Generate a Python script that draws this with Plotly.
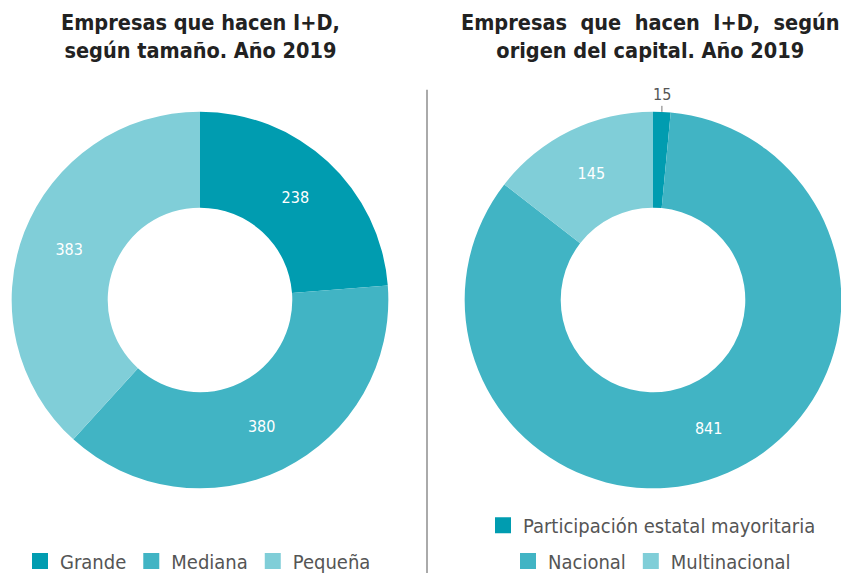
import math
import plotly.graph_objects as go

# Datos
tamano_labels = ["Grande", "Mediana", "Pequeña"]
tamano_values = [238, 380, 383]

origen_labels = ["Participación estatal mayoritaria", "Nacional", "Multinacional"]
origen_values = [15, 841, 145]

colores = ["#009cb0", "#41b4c4", "#80ced8"]

titulo_1 = "Empresas que hacen I+D,<br>según tamaño. Año 2019"
titulo_2 = "Empresas  que  hacen  I+D,  según<br>origen del capital. Año 2019"

FONT = "DejaVu Sans Condensed, DejaVu Sans, sans-serif"
W, H = 849, 573
OFF = 8  # margen del body de la pagina


def px(x):
    return (x - OFF) / W


def py(y):
    return 1 - (y - OFF) / H


# posicion de las dos tortas (pixeles de la ventana)
cx1, cx2, cy, R = 200, 653, 301, 189

fig = go.Figure()

fig.add_trace(go.Pie(
    labels=tamano_labels,
    values=tamano_values,
    hole=0.49,
    sort=False,
    direction="clockwise",
    rotation=0,
    marker=dict(colors=colores, line=dict(width=0)),
    textinfo="value",
    textposition="inside",
    insidetextorientation="horizontal",
    textfont=dict(color="white", size=16, family=FONT),
    domain=dict(x=[px(cx1 - R), px(cx1 + R)], y=[py(cy + R), py(cy - R)]),
    showlegend=False,
))

fig.add_trace(go.Pie(
    labels=origen_labels,
    values=origen_values,
    hole=0.49,
    sort=False,
    direction="clockwise",
    rotation=0,
    marker=dict(colors=colores, line=dict(width=0)),
    texttemplate=["", "%{value}", "%{value}"],
    textposition="inside",
    insidetextorientation="horizontal",
    textfont=dict(color="white", size=16, family=FONT),
    domain=dict(x=[px(cx2 - R), px(cx2 + R)], y=[py(cy + R), py(cy - R)]),
    showlegend=False,
))

# etiqueta externa de la porcion pequeña
ang = math.pi * origen_values[0] / sum(origen_values)
lx = px(cx2 + R * math.sin(ang))
ly = py(cy - R * math.cos(ang))

# entradas de leyenda
for i, lab in enumerate(tamano_labels):
    fig.add_trace(go.Scatter(x=[None], y=[None], mode="markers", name=lab,
                             marker=dict(symbol="square", size=16, color=colores[i]),
                             legend="legend"))
for i, lab in enumerate(origen_labels):
    fig.add_trace(go.Scatter(x=[None], y=[None], mode="markers", name=lab,
                             marker=dict(symbol="square", size=16, color=colores[i]),
                             legend="legend2" if i == 0 else "legend3"))

leg_common = dict(
    orientation="h",
    font=dict(size=20, color="#555555", family=FONT),
    yanchor="middle",
    xanchor="center",
    traceorder="normal",
    bgcolor="rgba(0,0,0,0)",
)

fig.update_layout(
    width=W,
    height=H,
    margin=dict(l=0, r=0, t=0, b=0),
    paper_bgcolor="white",
    plot_bgcolor="white",
    font=dict(family=FONT),
    xaxis=dict(visible=False, domain=[0, 0.001]),
    yaxis=dict(visible=False, domain=[0, 0.001]),
    legend=dict(x=px(198), y=py(563), **leg_common),
    legend2=dict(x=px(652), y=py(527), **leg_common),
    legend3=dict(x=px(652), y=py(563), **leg_common),
    annotations=[
        dict(text="<b>" + titulo_1 + "</b>", x=px(cx1), y=py(8), xref="paper", yref="paper",
             xanchor="center", yanchor="top", showarrow=False,
             font=dict(size=21.5, color="#222222", family=FONT)),
        dict(text="<b>" + titulo_2 + "</b>", x=px(650), y=py(8), xref="paper", yref="paper",
             xanchor="center", yanchor="top", showarrow=False,
             font=dict(size=21.5, color="#222222", family=FONT)),
        dict(text=str(origen_values[0]), x=lx, y=ly, xref="paper", yref="paper",
             showarrow=True, ax=0, ay=-17, arrowhead=0, arrowwidth=1, arrowcolor="#777777",
             font=dict(size=16, color="#555555", family=FONT)),
    ],
    shapes=[
        dict(type="line", xref="paper", yref="paper", x0=px(427), x1=px(427),
             y0=0, y1=py(90), line=dict(color="#aaaaaa", width=2)),
    ],
)

fig.write_html("out.html")
